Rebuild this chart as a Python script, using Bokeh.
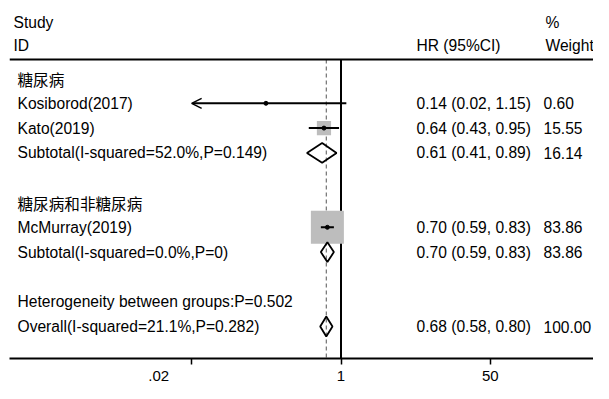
import math
from bokeh.plotting import figure
from bokeh.models import (Range1d, FixedTicker, CustomJSTickFormatter, Span, Arrow, OpenHead,
                          LinearScale)
from bokeh.core.properties import value
from bokeh.embed import file_html
from bokeh.resources import INLINE

# ---------------- data ----------------
group_labels = ["糖尿病", "糖尿病和非糖尿病"]
group_rows = [0, 5]

studies = ["Kosiborod(2017)", "Kato(2019)", "McMurray(2019)"]
study_rows = [1, 2, 6]
study_hr = [0.14, 0.64, 0.70]
study_lo = [0.02, 0.43, 0.59]
study_hi = [1.15, 0.95, 0.83]
study_w = [0.60, 15.55, 83.86]

pooled = ["Subtotal(I-squared=52.0%,P=0.149)", "Subtotal(I-squared=0.0%,P=0)",
          "Overall(I-squared=21.1%,P=0.282)"]
pooled_rows = [3, 7, 10]
pooled_hr = [0.61, 0.70, 0.68]
pooled_lo = [0.41, 0.59, 0.58]
pooled_hi = [0.89, 0.83, 0.80]
pooled_w = [16.14, 83.86, 100.00]

het_text = ["Heterogeneity between groups:P=0.502"]
het_rows = [9]

header_left = ["Study", "ID"]
header_mid = ["HR (95%CI)"]
header_right = ["%", "Weight"]

ticks = [0.02, 1, 50]
tick_labels = [".02", "1", "50"]

# ---------------- layout ----------------
W, H = 593, 383
LB = 9                   # left border (px)
FONT = value("Liberation Sans")
CJK = value("Noto Sans CJK SC")
FS = "15.6px"
ref_px = 340.5 - LB      # frame x of HR = 1
px_per_dec = 87.9
x_lo = 10 ** (-ref_px / px_per_dec)
x_hi = 10 ** ((W - LB - ref_px) / px_per_dec)
label_shift = [-33, 0, 0]   # px shift of the tick label vs. tick mark
label_pos = [t * 10 ** (s / px_per_dec) for t, s in zip(ticks, label_shift)]

row0_px, row_px, frame_h = 78.0, 24.8, 358.0
row_top = -row0_px / row_px
row_bottom = (frame_h - row0_px) / row_px
line_row = (59 - row0_px) / row_px
hdr_rows = [(21.7 - row0_px) / row_px, (44.5 - row0_px) / row_px]
x_left, x_hdr, x_hr, x_w, x_wh = 17, 13, 416, 543, 545

p = figure(width=W, height=H, x_axis_type="log", output_backend="svg", toolbar_location=None,
           x_range=Range1d(x_lo, x_hi), y_range=Range1d(row_bottom, row_top),
           y_axis_location=None, min_border_left=LB, min_border_right=0, min_border_top=0,
           min_border_bottom=0)
p.extra_x_ranges = {"px": Range1d(LB, W)}
p.extra_x_scales = {"px": LinearScale()}
p.outline_line_color = None
p.xgrid.visible = False
p.ygrid.visible = False
p.background_fill_color = "white"
p.border_fill_color = "white"

ax = p.xaxis[0]
ax.ticker = FixedTicker(ticks=label_pos, minor_ticks=ticks)
ax.formatter = CustomJSTickFormatter(args=dict(t=label_pos, l=tick_labels), code="""
    for (let i = 0; i < t.length; i++) { if (Math.abs(t[i] - tick) < 1e-6 * t[i]) return l[i]; }
    return '';
""")
ax.axis_line_width = 2
ax.axis_line_color = "black"
ax.major_tick_in = 0
ax.major_tick_out = 0
ax.minor_tick_in = 0
ax.minor_tick_out = 6
ax.minor_tick_line_width = 1.5
ax.minor_tick_line_color = "black"
ax.major_label_standoff = 6
ax.major_label_text_font = "Liberation Sans"
ax.major_label_text_font_size = "15px"
ax.major_label_text_color = "black"

# header rule
p.add_layout(Span(location=line_row, dimension="width", line_color="black", line_width=2))

# reference lines
p.segment(x0=[1], y0=[line_row], x1=[1], y1=[row_bottom], line_color="black", line_width=2)
p.segment(x0=[pooled_hr[-1]], y0=[line_row], x1=[pooled_hr[-1]], y1=[row_bottom],
          line_color="#555555", line_width=1, line_dash="4 3")

# weight squares
max_side = 33.0
sides = [max_side * math.sqrt(w / max(study_w)) for w in study_w]
p.scatter(x=study_hr, y=study_rows, size=sides, marker="square", fill_color="#bdbdbd",
          line_color=None)

# CI lines (arrow when clipped at lowest tick)
for r, h, lo, hi in zip(study_rows, study_hr, study_lo, study_hi):
    if lo <= ticks[0]:
        p.add_layout(Arrow(x_start=hi, y_start=r, x_end=lo, y_end=r, line_width=2,
                           end=OpenHead(size=10, line_width=1.5)))
    else:
        p.segment(x0=[lo], y0=[r], x1=[hi], y1=[r], line_color="black", line_width=2)
p.scatter(x=study_hr, y=study_rows, size=4, marker="circle", fill_color="black",
          line_color="black")

# diamonds
hh = 0.4
xs = [[lo, h, hi, h] for h, lo, hi in zip(pooled_hr, pooled_lo, pooled_hi)]
ys = [[r, r - hh, r, r + hh] for r in pooled_rows]
p.patches(xs=xs, ys=ys, fill_alpha=0, line_color="black", line_width=1.8)

# texts
def txt(x, y, t, font=FONT):
    p.text(x=x, y=y, text=t, x_range_name="px", text_font=font, text_font_size=FS,
           text_baseline="middle", text_align="left", text_color="black")

txt([x_hdr] * 2, hdr_rows, header_left)
txt([x_hr], [hdr_rows[1]], header_mid)
txt([x_wh] * 2, hdr_rows, header_right)
txt([x_left] * len(group_labels), group_rows, group_labels, CJK)
txt([x_left] * len(studies), study_rows, studies)
txt([x_left] * len(pooled), pooled_rows, pooled)
txt([x_left], het_rows, het_text)

ci_rows = study_rows + pooled_rows
ci_txt = [f"{h:.2f} ({l:.2f}, {u:.2f})" for h, l, u in
          zip(study_hr + pooled_hr, study_lo + pooled_lo, study_hi + pooled_hi)]
w_txt = [f"{w:.2f}" for w in study_w + pooled_w]
txt([x_hr] * len(ci_rows), ci_rows, ci_txt)
txt([x_w] * len(ci_rows), ci_rows, w_txt)

open("out.html", "w").write(file_html(p, INLINE))
